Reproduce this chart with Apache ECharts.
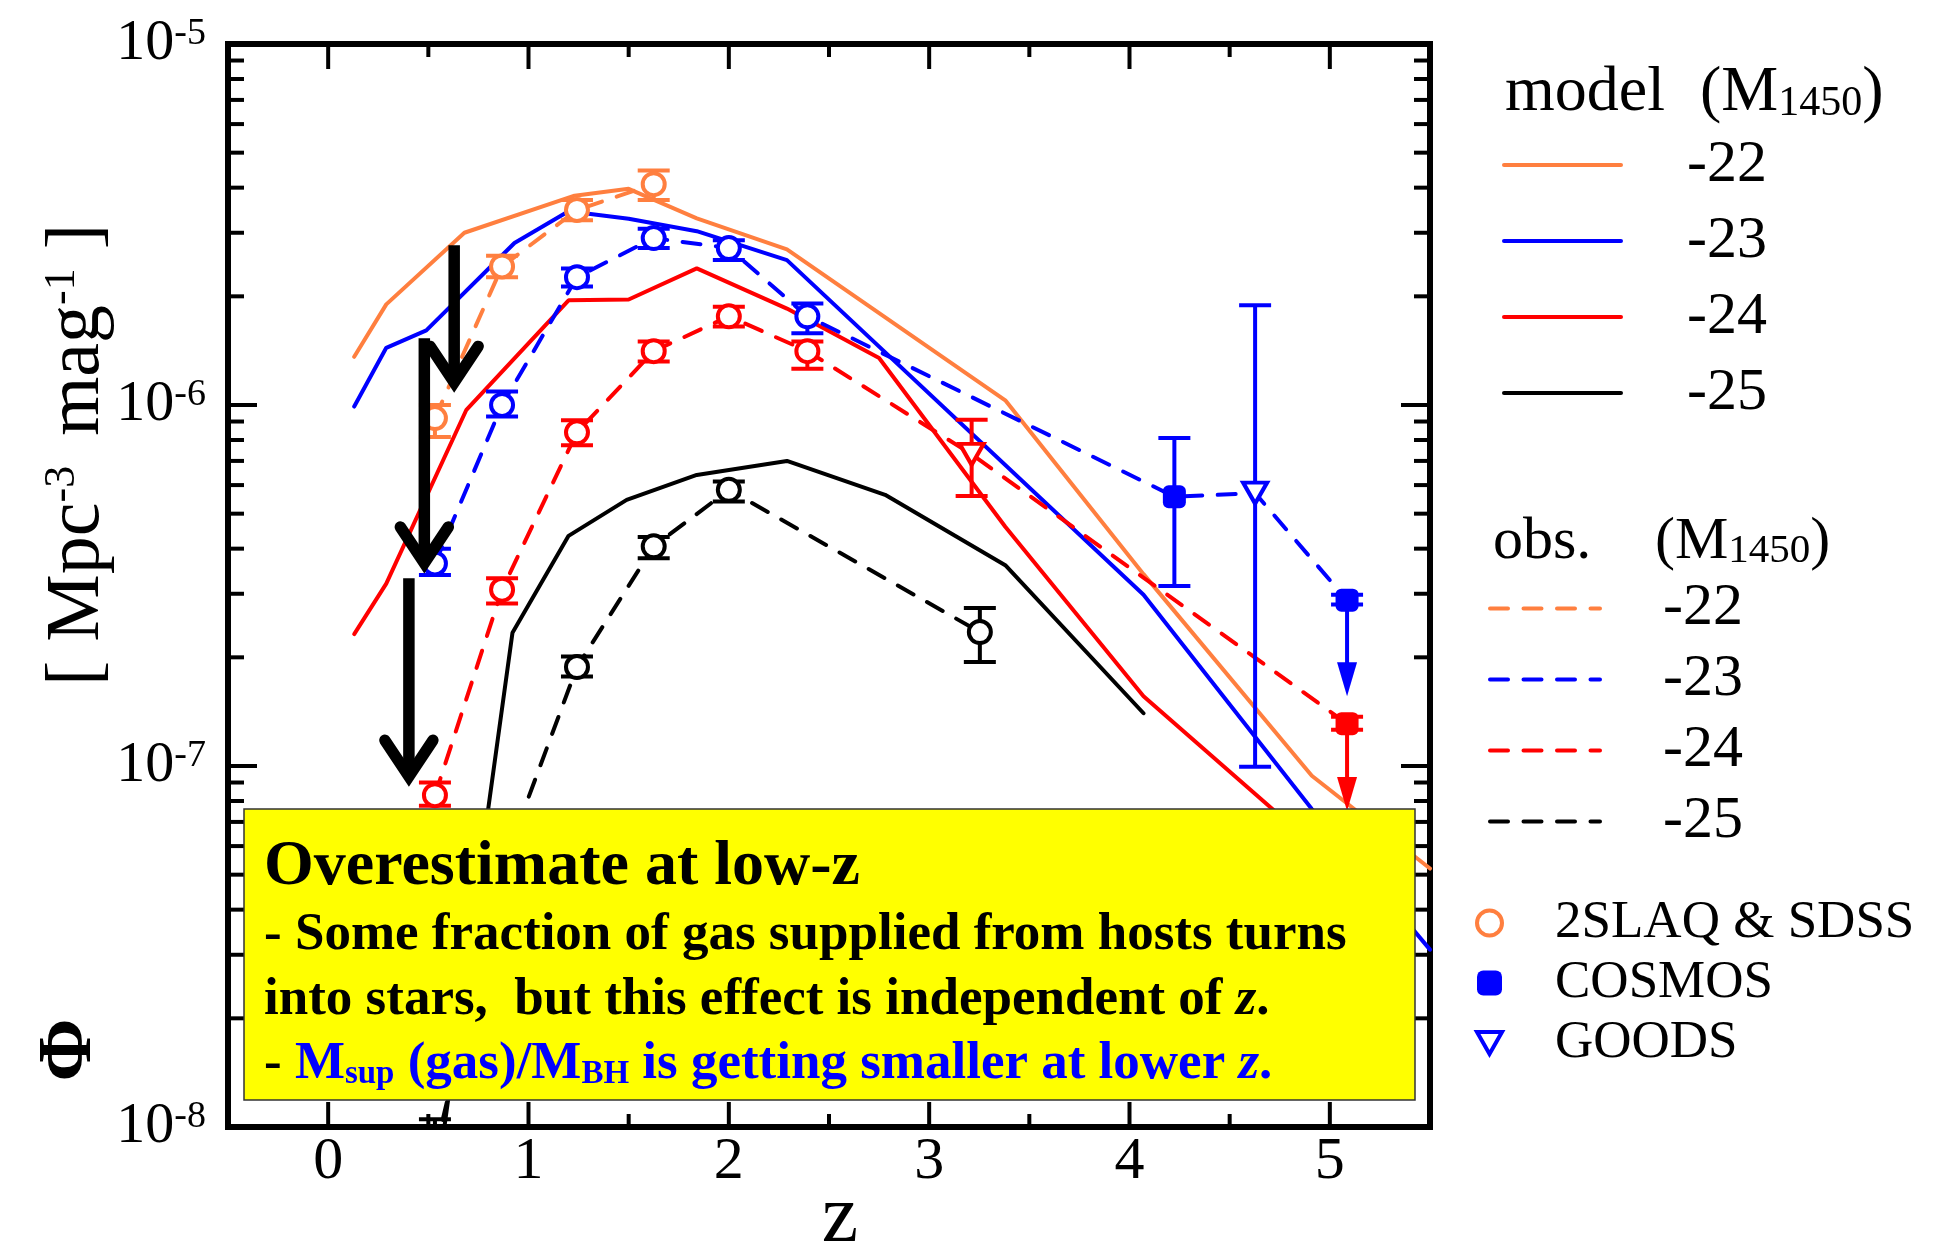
<!DOCTYPE html>
<html>
<head>
<meta charset="utf-8">
<script src="https://cdn.jsdelivr.net/npm/echarts@6/dist/echarts.min.js"></script>
<style>html,body{margin:0;padding:0;background:#fff}#chart{width:1936px;height:1250px}</style>
</head>
<body>
<div id="chart"></div>
<script>
// ---------------- data ----------------
const groupNames  = ['-22', '-23', '-24', '-25'];
const groupColors = ['#FF7F3F', '#0000FF', '#FF0000', '#000000'];

// model curves (solid)
const model22_z   = [0.13, 0.29, 0.68, 1.23, 1.50, 1.84, 2.29, 3.38, 4.07, 4.91, 5.50];
const model22_phi = [1.36e-6, 1.90e-6, 3.00e-6, 3.80e-6, 3.97e-6, 3.29e-6, 2.70e-6, 1.03e-6, 3.40e-7, 9.4e-8, 5.2e-8];
const model23_z   = [0.13, 0.29, 0.49, 0.93, 1.20, 1.50, 1.84, 2.29, 4.07, 4.91, 5.50];
const model23_phi = [9.9e-7, 1.44e-6, 1.61e-6, 2.81e-6, 3.44e-6, 3.28e-6, 3.03e-6, 2.52e-6, 2.98e-7, 7.6e-8, 3.1e-8];
const model24_z   = [0.13, 0.29, 0.69, 1.20, 1.50, 1.84, 2.29, 2.75, 3.38, 4.07, 4.91];
const model24_phi = [2.32e-7, 3.20e-7, 9.7e-7, 1.95e-6, 1.96e-6, 2.39e-6, 1.85e-6, 1.35e-6, 4.6e-7, 1.56e-7, 6.1e-8];
const model25_z   = [0.56, 0.92, 1.20, 1.49, 1.84, 2.29, 2.78, 3.38, 4.07];
const model25_phi = [8.3e-9, 2.34e-7, 4.34e-7, 5.46e-7, 6.40e-7, 7.00e-7, 5.64e-7, 3.60e-7, 1.40e-7];

// observations (dashed + symbols + error bars)
const obs22_z   = [0.533, 0.868, 1.242, 1.625];
const obs22_phi = [9.2e-7, 2.42e-6, 3.47e-6, 4.09e-6];
const obs22_lo  = [8.15e-7, 2.26e-6, 3.25e-6, 3.70e-6];
const obs22_hi  = [1.00e-6, 2.59e-6, 3.70e-6, 4.46e-6];
const obs22_src = ['2SLAQ & SDSS', '2SLAQ & SDSS', '2SLAQ & SDSS', '2SLAQ & SDSS'];

const obs23_z   = [0.533, 0.868, 1.242, 1.625, 2.000, 2.392, 4.224, 4.627, 5.086];
const obs23_phi = [3.64e-7, 1.00e-6, 2.26e-6, 2.90e-6, 2.72e-6, 1.76e-6, 5.57e-7, 5.70e-7, 2.88e-7];
const obs23_lo  = [3.38e-7, 0.93e-6, 2.13e-6, 2.72e-6, 2.52e-6, 1.58e-6, 3.15e-7, 9.96e-8, 2.80e-7];
const obs23_hi  = [4.00e-7, 1.09e-6, 2.39e-6, 3.08e-6, 2.86e-6, 1.91e-6, 8.10e-7, 1.89e-6, 2.98e-7];
const obs23_src = ['2SLAQ & SDSS', '2SLAQ & SDSS', '2SLAQ & SDSS', '2SLAQ & SDSS', '2SLAQ & SDSS', '2SLAQ & SDSS', 'COSMOS', 'GOODS', 'COSMOS'];

const obs24_z   = [0.533, 0.868, 1.242, 1.625, 2.000, 2.392, 3.212, 5.086];
const obs24_phi = [8.3e-8, 3.08e-7, 8.4e-7, 1.41e-6, 1.76e-6, 1.41e-6, 7.3e-7, 1.31e-7];
const obs24_lo  = [7.76e-8, 2.82e-7, 7.74e-7, 1.32e-6, 1.65e-6, 1.26e-6, 5.6e-7, 1.26e-7];
const obs24_hi  = [9.0e-8, 3.31e-7, 9.08e-7, 1.50e-6, 1.87e-6, 1.50e-6, 9.1e-7, 1.37e-7];
const obs24_src = ['2SLAQ & SDSS', '2SLAQ & SDSS', '2SLAQ & SDSS', '2SLAQ & SDSS', '2SLAQ & SDSS', '2SLAQ & SDSS', 'GOODS', 'COSMOS'];

const obs25_z   = [0.533, 0.868, 1.242, 1.625, 2.000, 3.253];
const obs25_phi = [8.5e-9, 5.2e-8, 1.88e-7, 4.06e-7, 5.82e-7, 2.35e-7];
const obs25_lo  = [7.0e-9, 4.7e-8, 1.77e-7, 3.76e-7, 5.40e-7, 1.94e-7];
const obs25_hi  = [1.05e-8, 5.7e-8, 2.01e-7, 4.31e-7, 6.14e-7, 2.74e-7];
const obs25_src = ['2SLAQ & SDSS', '2SLAQ & SDSS', '2SLAQ & SDSS', '2SLAQ & SDSS', '2SLAQ & SDSS', '2SLAQ & SDSS'];

// upper limits (COSMOS, z~5)
const ul_z     = [5.086, 5.086];
const ul_from  = [2.88e-7, 1.31e-7];
const ul_to    = [1.56e-7, 7.5e-8];
const ul_group = [1, 2];

// annotation arrows (black, pointing down)
const arrow_z   = [0.629, 0.480, 0.403];
const arrow_top = [2.77e-6, 1.53e-6, 3.31e-7];
const arrow_tip = [1.07e-6, 3.38e-7, 8.67e-8];

// axis ticks
const xMajorTicks = [0, 1, 2, 3, 4, 5];
const xMinorTicks = [0.5, 1.5, 2.5, 3.5, 4.5];
const yDecades    = [-8, -7, -6, -5];
const surveys     = ['2SLAQ & SDSS', 'COSMOS', 'GOODS'];

// ---------------- build ----------------
const FONT = '"Liberation Serif", "Times New Roman", Times, serif';
const models = [[model22_z, model22_phi], [model23_z, model23_phi], [model24_z, model24_phi], [model25_z, model25_phi]];
const obs = [
  [obs22_z, obs22_phi, obs22_lo, obs22_hi, obs22_src],
  [obs23_z, obs23_phi, obs23_lo, obs23_hi, obs23_src],
  [obs24_z, obs24_phi, obs24_lo, obs24_hi, obs24_src],
  [obs25_z, obs25_phi, obs25_lo, obs25_hi, obs25_src]
];
const zip = (a, b) => a.map((v, i) => [v, b[i]]);

const series = [];
models.forEach((m, g) => {
  series.push({
    name: 'model ' + groupNames[g], type: 'line', data: zip(m[0], m[1]),
    symbol: 'none', z: 2, clip: true,
    lineStyle: { color: groupColors[g], width: 4, cap: 'round' },
    itemStyle: { color: groupColors[g] }
  });
});
obs.forEach((o, g) => {
  series.push({
    name: 'obs ' + groupNames[g], type: 'line', data: zip(o[0], o[1]),
    symbol: 'none', z: 2, clip: true,
    lineStyle: { color: groupColors[g], width: 4, type: [18, 15.5], cap: 'round' },
    itemStyle: { color: groupColors[g] }
  });
});

// error bars
const errData = [];
obs.forEach((o, g) => o[0].forEach((z, i) => errData.push([z, o[2][i], o[3][i], g])));
series.push({
  type: 'custom', name: 'errors', z: 3, clip: true, silent: true,
  encode: { x: 0, y: [1, 2] },
  data: errData,
  renderItem: (params, api) => {
    const x = api.value(0);
    const c = groupColors[api.value(3)];
    const ph = api.coord([x, api.value(2)]);
    const pl = api.coord([x, api.value(1)]);
    const cw = 16;
    const st = { stroke: c, lineWidth: 4 };
    return { type: 'group', children: [
      { type: 'line', shape: { x1: ph[0], y1: ph[1], x2: pl[0], y2: pl[1] }, style: st },
      { type: 'line', shape: { x1: ph[0] - cw, y1: ph[1], x2: ph[0] + cw, y2: ph[1] }, style: st },
      { type: 'line', shape: { x1: pl[0] - cw, y1: pl[1], x2: pl[0] + cw, y2: pl[1] }, style: st }
    ]};
  }
});

// upper-limit arrows
series.push({
  type: 'custom', name: 'limits', z: 3, clip: true, silent: true,
  encode: { x: 0, y: [1, 2] },
  data: ul_z.map((z, i) => [z, ul_from[i], ul_to[i], ul_group[i]]),
  renderItem: (params, api) => {
    const x = api.value(0);
    const c = groupColors[api.value(3)];
    const p0 = api.coord([x, api.value(1)]);
    const p1 = api.coord([x, api.value(2)]);
    const hl = 34, hw = 10;
    return { type: 'group', children: [
      { type: 'line', shape: { x1: p0[0], y1: p0[1], x2: p1[0], y2: p1[1] - hl + 2 }, style: { stroke: c, lineWidth: 4 } },
      { type: 'polygon', shape: { points: [[p1[0], p1[1]], [p1[0] - hw, p1[1] - hl], [p1[0] + hw, p1[1] - hl]] }, style: { fill: c } }
    ]};
  }
});

// survey symbols
const surveyStyle = {
  '2SLAQ & SDSS': { symbol: 'circle', symbolSize: 22, symbolRotate: 0 },
  'COSMOS': { symbol: 'roundRect', symbolSize: 23, symbolRotate: 0 },
  'GOODS': { symbol: 'triangle', symbolSize: [24, 21], symbolRotate: 180 }
};
surveys.forEach((s) => {
  const pts = [];
  obs.forEach((o, g) => o[0].forEach((z, i) => {
    if (o[4][i] !== s) return;
    const c = groupColors[g];
    pts.push({ value: [z, o[1][i]], itemStyle: s === 'COSMOS' ? { color: c, borderColor: c, opacity: 1 } : { color: '#fff', borderColor: c, opacity: 1 } });
  }));
  const ss = surveyStyle[s];
  series.push({
    name: s, type: 'scatter', z: 4, clip: true, data: pts,
    symbol: ss.symbol, symbolSize: ss.symbolSize, symbolRotate: ss.symbolRotate,
    itemStyle: s === 'COSMOS'
      ? { color: '#0000FF', borderColor: '#0000FF', borderWidth: 0, opacity: 1 }
      : { color: '#fff', borderColor: s === 'GOODS' ? '#0000FF' : '#FF7F3F', borderWidth: 4, opacity: 1 }
  });
});

// annotation arrows
series.push({
  type: 'custom', name: 'arrows', z: 5, clip: false, silent: true,
  encode: { x: 0, y: [1, 2] },
  data: arrow_z.map((z, i) => [z, arrow_top[i], arrow_tip[i]]),
  renderItem: (params, api) => {
    const x = api.value(0);
    const t = api.coord([x, api.value(1)]);
    const p = api.coord([x, api.value(2)]);
    const w = 11.5;
    return { type: 'group', children: [
      { type: 'line', shape: { x1: t[0], y1: t[1], x2: p[0], y2: p[1] - 16 }, style: { stroke: '#000', lineWidth: w } },
      { type: 'polyline', shape: { points: [[p[0] - 24, p[1] - 48], [p[0], p[1] - 12], [p[0] + 24, p[1] - 48]] },
        style: { stroke: '#000', fill: null, lineWidth: w, lineJoin: 'miter', miterLimit: 10, lineCap: 'round' } }
    ]};
  }
});

// frame ticks
series.push({
  type: 'custom', name: 'ticks', z: 6, clip: false, silent: true,
  data: [[0, 1e-6]],
  renderItem: (params, api) => {
    const cs = params.coordSys;
    const L = cs.x, R = cs.x + cs.width, T = cs.y, B = cs.y + cs.height;
    const ch = [];
    const ln = (x1, y1, x2, y2) => ch.push({ type: 'line', shape: { x1, y1, x2, y2 }, style: { stroke: '#000', lineWidth: 4 } });
    xMajorTicks.forEach(v => { const x = api.coord([v, 1e-6])[0]; ln(x, B, x, B - 25); ln(x, T, x, T + 25); });
    xMinorTicks.forEach(v => { const x = api.coord([v, 1e-6])[0]; ln(x, B, x, B - 13); ln(x, T, x, T + 13); });
    yDecades.forEach(d => {
      const y = api.coord([0, Math.pow(10, d)])[1];
      ln(L, y, L + 29, y); ln(R, y, R - 29, y);
      if (d < -5) for (let m = 2; m <= 9; m++) {
        const ym = api.coord([0, m * Math.pow(10, d)])[1];
        ln(L, ym, L + 16, ym); ln(R, ym, R - 16, ym);
      }
    });
    return { type: 'group', children: ch };
  }
});

const legendText = (size, lh, pad) => ({ fontFamily: FONT, fontSize: size, lineHeight: lh, color: '#000', padding: [0, 0, 0, pad] });
const hiddenSym = { color: 'rgba(0,0,0,0)', borderWidth: 0, opacity: 0 };

const option = {
  animation: false,
  backgroundColor: '#fff',
  grid: { left: 228, right: 506, top: 44, bottom: 123, show: true, borderColor: '#000', borderWidth: 6, backgroundColor: 'transparent' },
  xAxis: {
    type: 'value', min: -0.5, max: 5.5, interval: 0.5,
    axisLine: { show: false }, axisTick: { show: false }, splitLine: { show: false },
    axisLabel: {
      interval: 0, margin: 5, fontFamily: FONT, fontSize: 60, lineHeight: 60, color: '#000',
      formatter: v => (Math.abs(v - Math.round(v)) < 1e-9 && v >= 0) ? String(Math.round(v)) : ''
    }
  },
  yAxis: {
    type: 'log', logBase: 10, min: 1e-8, max: 1e-5,
    axisLine: { show: false }, axisTick: { show: false }, splitLine: { show: false }, minorTick: { show: false },
    axisLabel: {
      margin: 22, color: '#000',
      formatter: v => '{b|10}{s|' + Math.round(Math.log10(v)) + '}',
      rich: {
        b: { fontFamily: FONT, fontSize: 58, lineHeight: 58, color: '#000' },
        s: { fontFamily: FONT, fontSize: 38, lineHeight: 20, verticalAlign: 'top', color: '#000' }
      }
    }
  },
  legend: [
    { orient: 'vertical', left: 1502, top: 127, padding: 0, itemGap: 0, itemWidth: 117, itemHeight: 8, selectedMode: false,
      itemStyle: hiddenSym, lineStyle: { width: 4 },
      data: groupNames.map(n => 'model ' + n), formatter: n => n.split(' ')[1], textStyle: legendText(60, 76, 61) },
    { orient: 'vertical', left: 1488, top: 573, padding: 0, itemGap: 0, itemWidth: 110, itemHeight: 8, selectedMode: false,
      itemStyle: hiddenSym, lineStyle: { width: 4 },
      data: groupNames.map(n => 'obs ' + n), formatter: n => n.split(' ')[1], textStyle: legendText(60, 71, 58) },
    { orient: 'vertical', left: 1475, top: 893, padding: 0, itemGap: 0, itemWidth: 25, itemHeight: 25, selectedMode: false,
      itemStyle: { borderWidth: 4, opacity: 1 },
      data: [
        { name: '2SLAQ & SDSS' },
        { name: 'COSMOS', itemStyle: { borderWidth: 0 } },
        { name: 'GOODS', icon: 'path://M0,0L24,0L12,21Z', itemStyle: { color: '#fff', borderColor: '#0000FF', borderWidth: 4 } }
      ],
      textStyle: legendText(53, 60, 48) }
  ],
  graphic: [
    // y-axis title
    { type: 'text', x: 78, y: 455, rotation: Math.PI / 2, z: 50,
      style: { text: '{t|[ Mpc}{s|-3 }{t| mag}{s|-1}{t| ]}', align: 'center', verticalAlign: 'middle',
        rich: { t: { fontFamily: FONT, fontSize: 76, lineHeight: 76, fill: '#000' },
                s: { fontFamily: FONT, fontSize: 44, lineHeight: 26, verticalAlign: 'top', fill: '#000' } } } },
    { type: 'text', x: 70, y: 1050, rotation: Math.PI / 2, z: 50,
      style: { text: 'Φ', fontFamily: FONT, fontSize: 76, fontWeight: 'bold', fill: '#000', align: 'center', verticalAlign: 'middle' } },
    // x-axis title
    { type: 'text', x: 840, y: 1219, z: 50,
      style: { text: 'z', fontFamily: FONT, fontSize: 82, fill: '#000', align: 'center', verticalAlign: 'middle' } },
    // legend headers
    { type: 'text', x: 1505, y: 93, z: 50, style: { text: 'model', fontFamily: FONT, fontSize: 64, fill: '#000', verticalAlign: 'middle' } },
    { type: 'text', x: 1700, y: 93, z: 50,
      style: { text: '{m|(M}{s|1450}{m|)}', verticalAlign: 'middle',
        rich: { m: { fontFamily: FONT, fontSize: 64, lineHeight: 64, fill: '#000' },
                s: { fontFamily: FONT, fontSize: 42, lineHeight: 18, verticalAlign: 'bottom', fill: '#000' } } } },
    { type: 'text', x: 1493, y: 542, z: 50, style: { text: 'obs.', fontFamily: FONT, fontSize: 60, fill: '#000', verticalAlign: 'middle' } },
    { type: 'text', x: 1655, y: 542, z: 50,
      style: { text: '{m|(M}{s|1450}{m|)}', verticalAlign: 'middle',
        rich: { m: { fontFamily: FONT, fontSize: 60, lineHeight: 60, fill: '#000' },
                s: { fontFamily: FONT, fontSize: 41, lineHeight: 16, verticalAlign: 'bottom', fill: '#000' } } } },
    // annotation box
    { type: 'rect', z: 100, shape: { x: 244, y: 809, width: 1171, height: 291 }, style: { fill: '#FFFF00', stroke: '#333', lineWidth: 1.5 } },
    { type: 'text', z: 101, x: 264, y: 867,
      style: { text: 'Overestimate at low-z', fontFamily: FONT, fontSize: 64, fontWeight: 'bold', fill: '#000', verticalAlign: 'middle' } },
    { type: 'text', z: 101, x: 264, y: 935,
      style: { text: '- Some fraction of gas supplied from hosts turns', fontFamily: FONT, fontSize: 53, fontWeight: 'bold', fill: '#000', verticalAlign: 'middle' } },
    { type: 'text', z: 101, x: 264, y: 1000,
      style: { text: '{n|into stars,  but this effect is independent of }{i|z}{n|.}', verticalAlign: 'middle',
        rich: { n: { fontFamily: FONT, fontSize: 53, lineHeight: 53, fontWeight: 'bold', fill: '#000' },
                i: { fontFamily: FONT, fontSize: 53, lineHeight: 53, fontWeight: 'bold', fontStyle: 'italic', fill: '#000' } } } },
    { type: 'text', z: 101, x: 264, y: 1064,
      style: { text: '{n|- }{b|M}{bs|sup}{b| (gas)/M}{bs|BH}{b| is getting smaller at lower }{bi|z}{b|.}', verticalAlign: 'middle',
        rich: { n: { fontFamily: FONT, fontSize: 53, lineHeight: 53, fontWeight: 'bold', fill: '#000' },
                b: { fontFamily: FONT, fontSize: 53, lineHeight: 53, fontWeight: 'bold', fill: '#0000FF' },
                bs: { fontFamily: FONT, fontSize: 33, lineHeight: 10, verticalAlign: 'bottom', fontWeight: 'bold', fill: '#0000FF' },
                bi: { fontFamily: FONT, fontSize: 53, lineHeight: 53, fontWeight: 'bold', fontStyle: 'italic', fill: '#0000FF' } } } }
  ],
  series: series
};

const chart = echarts.init(document.getElementById('chart'), null, { renderer: 'canvas' });
chart.setOption(option);
</script>
</body>
</html>
